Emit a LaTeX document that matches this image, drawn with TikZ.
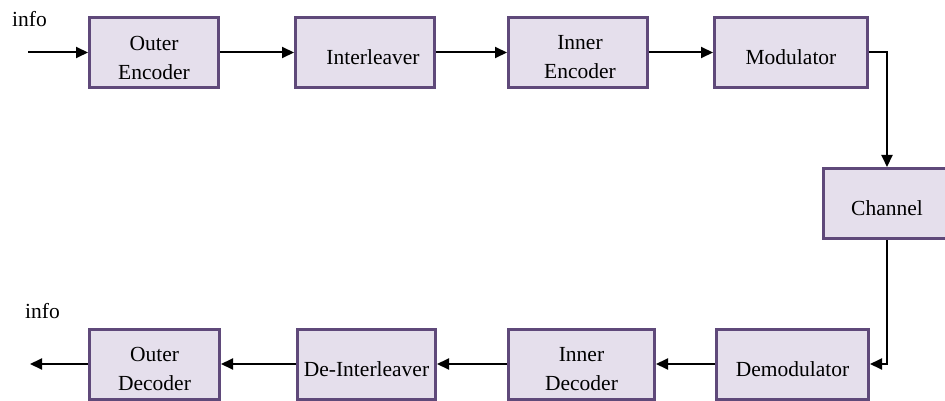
\documentclass[tikz,border=0pt]{standalone}
\usepackage{fontspec}
\setmainfont{Liberation Serif}
\usetikzlibrary{arrows.meta}
\definecolor{boxfill}{HTML}{E5DFEC}
\definecolor{boxline}{HTML}{5F497A}
\begin{document}
\begin{tikzpicture}[x=1pt,y=-1pt,
  blk/.style={draw=boxline, fill=boxfill, line width=3pt, minimum height=70pt, inner sep=0pt},
  txt/.style={font=\fontsize{21.5}{29}\selectfont, align=center, yshift=-5pt, inner sep=0pt},
  flow/.style={line width=2pt, -{Triangle[length=12pt,width=11pt]}}]
\clip (0,0) rectangle (945,401);
\useasboundingbox (0,0) rectangle (945,401);
% top row
\node[blk, minimum width=129pt, label={[txt]center:Outer\\Encoder}] (oe) at (154,52.5) {};
\node[blk, minimum width=139pt, label={[txt,xshift=8pt]center:Interleaver}] (il) at (365,52.5) {};
\node[blk, minimum width=139pt, label={[txt,xshift=2pt]center:Inner\\Encoder}] (ie) at (578,52.5) {};
\node[blk, minimum width=153pt, label={[txt]center:Modulator}] (mod) at (791,52.5) {};
% channel
\node[blk, minimum width=127pt, label={[txt]center:Channel}] (chan) at (887,203.5) {};
% bottom row
\node[blk, minimum width=152pt, label={[txt]center:Demodulator}] (dem) at (792.5,364) {};
\node[blk, minimum width=146pt, label={[txt]center:Inner\\Decoder}] (id) at (581.5,364) {};
\node[blk, minimum width=138pt, label={[txt]center:De-Interleaver}] (di) at (366.5,364) {};
\node[blk, minimum width=130pt, label={[txt]center:Outer\\Decoder}] (od) at (154.5,364) {};
% info labels
\node[font=\fontsize{21.5}{25}\selectfont, anchor=base west, inner sep=0pt] (infoin) at (12,27) {info};
\node[font=\fontsize{21.5}{25}\selectfont, anchor=base west, inner sep=0pt] (infoout) at (25,318) {info};
\coordinate (src) at (28,52.5);
\coordinate (sink) at (30,364);
% connectors
\draw[flow] (src) -- (oe.west);
\draw[flow] (oe.east) -- (il.west);
\draw[flow] (il.east) -- (ie.west);
\draw[flow] (ie.east) -- (mod.west);
\draw[flow] (mod.east) -| (chan.north);
\draw[flow] (chan.south) |- (dem.east);
\draw[flow] (dem.west) -- (id.east);
\draw[flow] (id.west) -- (di.east);
\draw[flow] (di.west) -- (od.east);
\draw[flow] (od.west) -- (sink);
\end{tikzpicture}
\end{document}
